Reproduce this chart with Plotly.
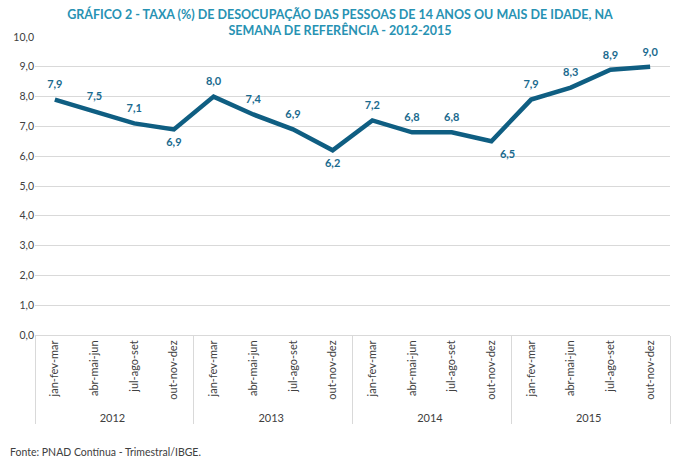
import plotly.graph_objects as go

anos = ["2012"] * 4 + ["2013"] * 4 + ["2014"] * 4 + ["2015"] * 4
trimestres = ["jan-fev-mar", "abr-mai-jun", "jul-ago-set", "out-nov-dez"] * 4
taxa = [7.9, 7.5, 7.1, 6.9, 8.0, 7.4, 6.9, 6.2, 7.2, 6.8, 6.8, 6.5, 7.9, 8.3, 8.9, 9.0]
rotulos = [f"{v:.1f}".replace(".", ",") for v in taxa]
posicoes = ["top center"] * 16
posicoes[3] = "bottom center"
posicoes[7] = "bottom center"
posicoes[11] = "bottom right"

fig = go.Figure()
fig.add_trace(go.Scatter(
    x=[anos, trimestres], y=taxa, mode="lines+markers+text",
    line=dict(color="#0F5E82", width=4.5),
    marker=dict(size=12, opacity=0),
    text=rotulos, textposition=posicoes,
    textfont=dict(family="Lato", size=11, color="#1A6A8E", weight="bold"),
    cliponaxis=False, showlegend=False, hoverinfo="skip",
))

fig.update_layout(
    width=680, height=468,
    margin=dict(l=35, r=10, t=37, b=133),
    paper_bgcolor="white", plot_bgcolor="white",
    separators=",.",
    font=dict(family="Lato", size=10, color="#404040"),
    title=dict(
        text="GRÁFICO 2 - TAXA (%) DE DESOCUPAÇÃO DAS PESSOAS DE 14 ANOS OU MAIS DE IDADE, NA<br>SEMANA DE REFERÊNCIA - 2012-2015",
        x=0.5, xanchor="center", y=0.959, yanchor="middle",
        font=dict(family="Lato", size=12.5, color="#2792B3", weight="bold"),
    ),
    xaxis=dict(
        type="multicategory", tickangle=-90,
        showdividers=True, dividercolor="#D9D9D9", dividerwidth=1,
        showgrid=False, showline=True, linecolor="#D9D9D9",
        ticks="", tickfont=dict(size=11, color="#404040"),
        range=[-0.5, 15.5],
    ),
    yaxis=dict(
        range=[0, 10], dtick=1, tickformat=".1f",
        showgrid=True, gridcolor="#D9D9D9", gridwidth=1,
        zeroline=False, ticks="", tickfont=dict(size=10.5, color="#404040"),
    ),
)

fig.add_annotation(
    text="Fonte: PNAD Contínua - Trimestral/IBGE.",
    xref="paper", yref="paper", x=-0.043, y=-0.393,
    xanchor="left", yanchor="middle", showarrow=False,
    font=dict(family="Lato", size=10.5, color="#404040"),
)

fig.write_html("out.html", config={"displayModeBar": False},
               post_script="document.body.style.margin='0';")
